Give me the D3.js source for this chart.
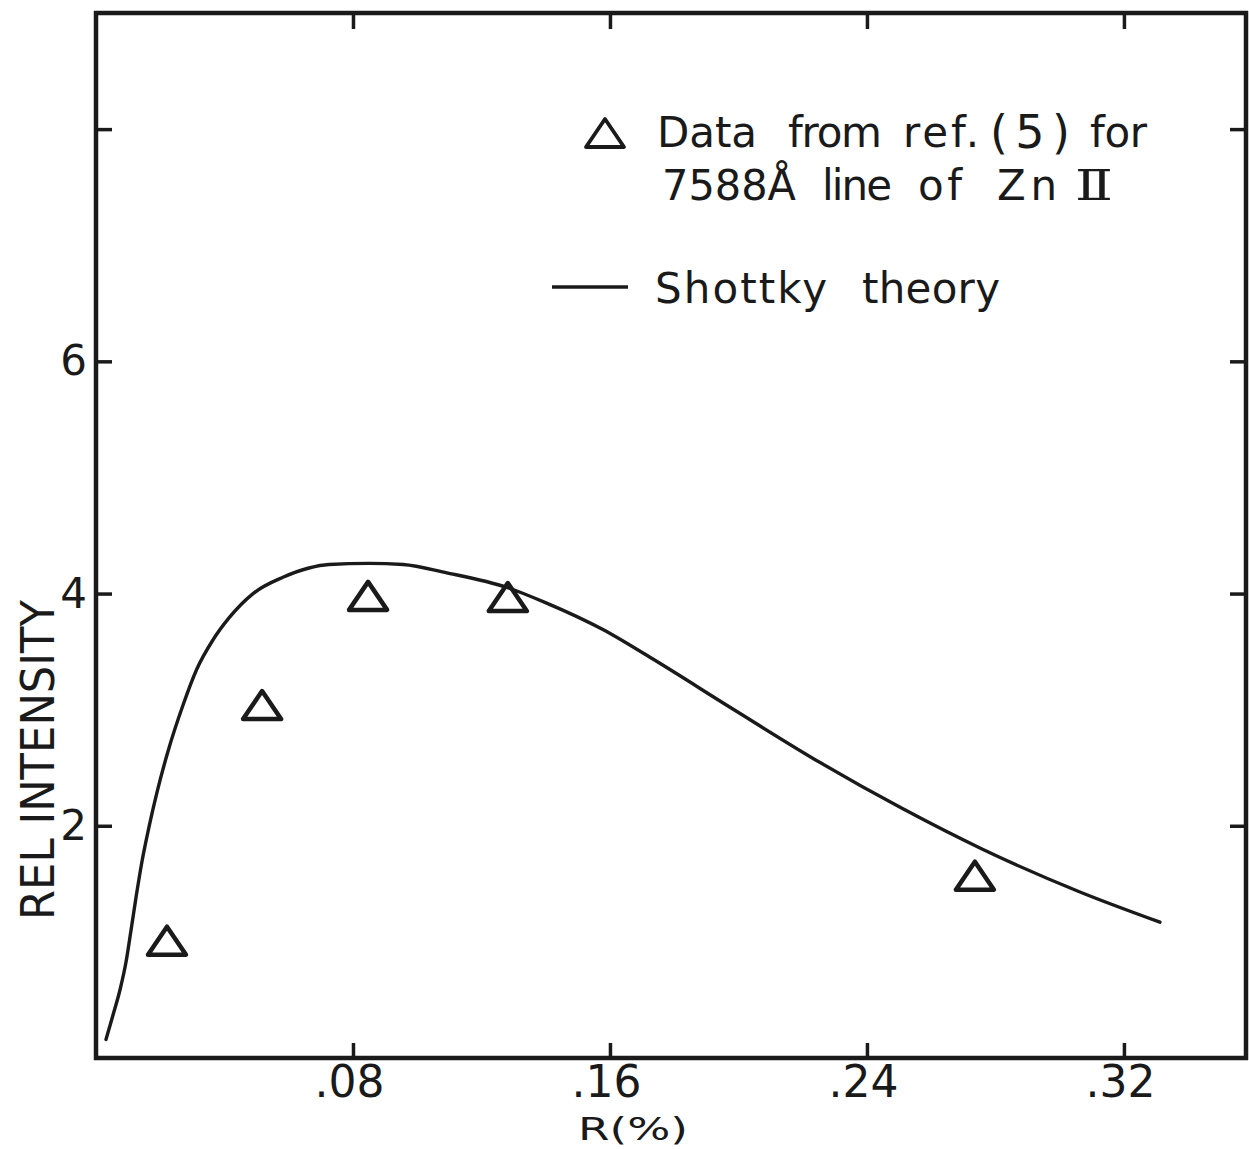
<!DOCTYPE html>
<html>
<head>
<meta charset="utf-8">
<script src="https://cdn.jsdelivr.net/npm/d3@7/dist/d3.min.js"></script>
<style>
  html, body { margin: 0; padding: 0; background: #fff; }
  svg { display: block; }
  text { font-family: "DejaVu Sans", "Liberation Sans", sans-serif; fill: #1a1a1a; }
</style>
</head>
<body>
<svg id="chart" width="1249" height="1149"></svg>
<script>
// Measured relative intensity of the 7588 Å Zn II line
const dataR = [0.0221, 0.0517, 0.0847, 0.1282, 0.2736];
const dataI = [1.01, 3.04, 3.98, 3.97, 1.57];

// Schottky theory curve
const theoryR = [0.0031, 0.0053, 0.0075, 0.0093, 0.0109, 0.0125, 0.0143, 0.0165, 0.0190,
  0.0224, 0.0271, 0.0314, 0.0364, 0.0414, 0.0489, 0.0582, 0.0663, 0.0725, 0.0850,
  0.0956, 0.1089, 0.1282, 0.1401, 0.1578, 0.1731, 0.1980, 0.2257, 0.2509, 0.2758,
  0.3063, 0.3312];
const theoryI = [0.16, 0.37, 0.59, 0.82, 1.10, 1.39, 1.69, 1.99, 2.29,
  2.64, 3.04, 3.35, 3.60, 3.79, 4.00, 4.14, 4.22, 4.25, 4.26,
  4.25, 4.18, 4.05, 3.92, 3.69, 3.44, 3.01, 2.54, 2.15, 1.80,
  1.43, 1.17];

const xTicks = [0.08, 0.16, 0.24, 0.32];
const yTicks = [2, 4, 6, 8];
const yTickLabels = ["2", "4", "6", ""];

const svg = d3.select("#chart");
const frame = { left: 96, right: 1246, top: 13, bottom: 1058 };

const x = d3.scaleLinear().domain([0, 0.358]).range([frame.left, frame.right]);
const y = d3.scaleLinear().domain([0, 9]).range([frame.bottom, frame.top]);

const ink = "#1a1a1a";
const fmtX = d => d3.format(".2f")(d).replace(/^0/, "");

// axes on all four sides, ticks pointing inward
const gBottom = svg.append("g").attr("transform", `translate(0,${frame.bottom})`)
  .call(d3.axisBottom(x).tickValues(xTicks).tickSize(-15).tickPadding(8).tickFormat(fmtX));
const gTop = svg.append("g").attr("transform", `translate(0,${frame.top})`)
  .call(d3.axisTop(x).tickValues(xTicks).tickSize(-16).tickFormat(""));
const gLeft = svg.append("g").attr("transform", `translate(${frame.left},0)`)
  .call(d3.axisLeft(y).tickValues(yTicks).tickSize(-16).tickPadding(9)
    .tickFormat((d, i) => yTickLabels[i]));
const gRight = svg.append("g").attr("transform", `translate(${frame.right},0)`)
  .call(d3.axisRight(y).tickValues(yTicks).tickSize(-16).tickFormat(""));

[gBottom, gTop, gLeft, gRight].forEach(g => {
  const horizontal = (g === gBottom || g === gTop);
  g.select(".domain").attr("stroke", ink).attr("stroke-width", 4.5)
    .attr("d", horizontal
      ? `M${frame.left - 2},0H${frame.right + 2}` : `M0,${frame.top - 2}V${frame.bottom + 2}`);
  g.selectAll(".tick line").attr("stroke", ink).attr("stroke-width", 3.5);
  g.selectAll(".tick text").attr("font-size", 44).attr("fill", ink)
    .style("font-family", "'DejaVu Sans', sans-serif");
});
gBottom.selectAll(".tick text").attr("dx", -4);
gLeft.selectAll(".tick text").attr("font-size", 42);

// axis titles
svg.append("text")
  .attr("transform", `translate(54,${(600 + 920) / 2}) rotate(-90)`)
  .attr("text-anchor", "middle")
  .attr("font-size", 46)
  .attr("textLength", 320).attr("lengthAdjust", "spacingAndGlyphs")
  .text("REL INTENSITY");

svg.append("text")
  .attr("x", 578).attr("y", 1140)
  .attr("font-size", 32)
  .attr("textLength", 110).attr("lengthAdjust", "spacingAndGlyphs")
  .text("R(%)");

// theory curve
const pts = theoryR.map((r, i) => [r, theoryI[i]]);
svg.append("path")
  .datum(pts)
  .attr("fill", "none")
  .attr("stroke", ink)
  .attr("stroke-width", 3.4)
  .attr("stroke-linecap", "round")
  .attr("d", d3.line().x(d => x(d[0])).y(d => y(d[1])).curve(d3.curveMonotoneX));

// open triangle marker
const tri = "M0,-14L19,14L-19,14Z";
svg.append("g").selectAll("path")
  .data(dataR.map((r, i) => [r, dataI[i]]))
  .join("path")
  .attr("transform", d => `translate(${x(d[0])},${y(d[1])})`)
  .attr("d", tri)
  .attr("fill", "none")
  .attr("stroke", ink)
  .attr("stroke-width", 4.5)
  .attr("stroke-linejoin", "round");

// legend
const leg = svg.append("g");
leg.append("path")
  .attr("transform", "translate(605,133)")
  .attr("d", tri)
  .attr("fill", "none").attr("stroke", ink).attr("stroke-width", 3.8)
  .attr("stroke-linejoin", "round");
leg.append("line")
  .attr("x1", 552).attr("x2", 628).attr("y1", 287).attr("y2", 287)
  .attr("stroke", ink).attr("stroke-width", 3.4);

// legend words, each set at its own place along the line
const legendWords = [
  { t: "Data", x0: 657, w: 100, yb: 147 },
  { t: "from", x0: 788, w: 94, yb: 147 },
  { t: "ref.", x0: 903, w: 76, yb: 147 },
  { t: "(5)", x0: 990, w: 80, yb: 148, size: 46 },
  { t: "for", x0: 1090, w: 57, yb: 147 },
  { t: "7588Å", x0: 662, w: 134, yb: 200, squeeze: true },
  { t: "line", x0: 822, w: 70, yb: 200 },
  { t: "of", x0: 918, w: 44, yb: 200 },
  { t: "Zn", x0: 997, w: 60, yb: 200 },
  { t: "Ⅱ", x0: 1075, w: 38, yb: 200, serif: true, squeeze: true },
  { t: "Shottky", x0: 655, w: 172, yb: 303 },
  { t: "theory", x0: 862, w: 138, yb: 303 }
];
leg.selectAll("text.word")
  .data(legendWords)
  .join("text")
  .attr("class", "word")
  .attr("x", d => d.x0).attr("y", d => d.yb)
  .attr("font-size", d => d.size || 42)
  .style("font-family", d => d.serif ? "'DejaVu Serif', serif" : "'DejaVu Sans', sans-serif")
  .attr("textLength", d => d.w)
  .attr("lengthAdjust", d => d.squeeze ? "spacingAndGlyphs" : "spacing")
  .text(d => d.t);
</script>
</body>
</html>
